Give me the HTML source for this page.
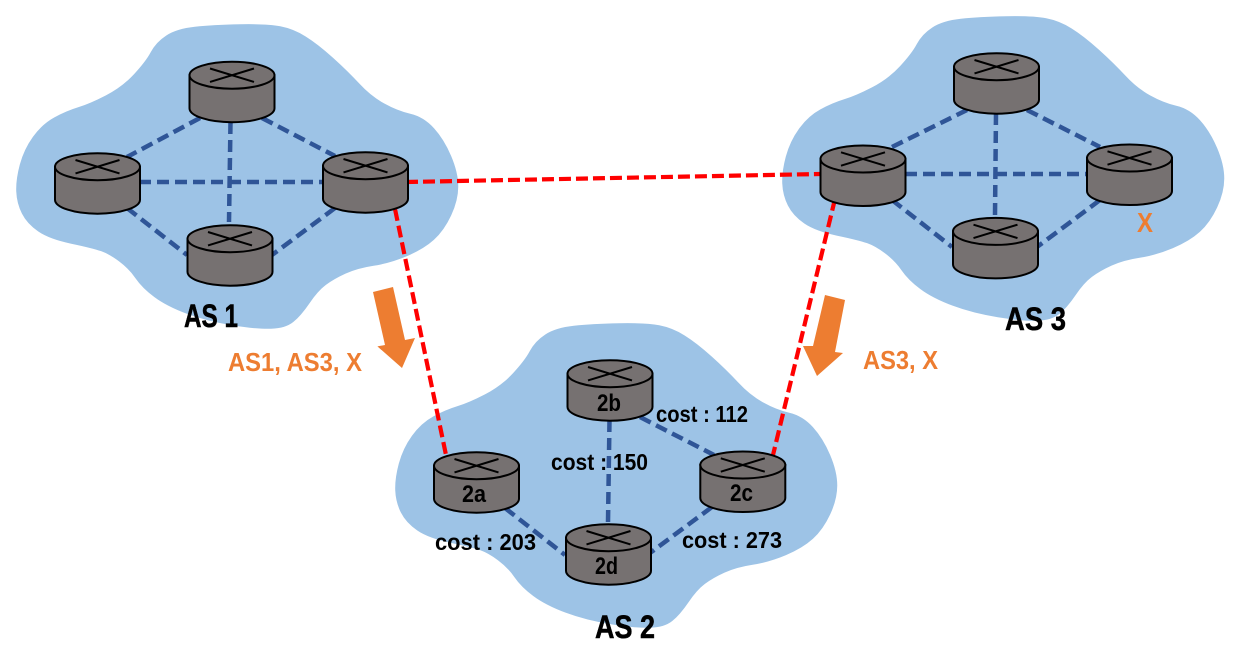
<!DOCTYPE html>
<html>
<head>
<meta charset="utf-8">
<style>
html,body{margin:0;padding:0;background:#fff;width:1245px;height:657px;overflow:hidden}
svg{display:block}
text{font-family:"Liberation Sans",sans-serif;font-weight:bold;fill:#000}
text.o{fill:#ed7d31}
.b{stroke:#2f5597;stroke-width:4.500;stroke-dasharray:12 6;fill:none}
.r{stroke:#ff0000;stroke-width:4.200;stroke-dasharray:12 5;fill:none}
</style>
</head>
<body>
<svg xmlns="http://www.w3.org/2000/svg" width="1245" height="657" viewBox="0 0 1245 657">
<defs>
<path id="cloud" fill="#9dc3e6" stroke="#9dc3e6" stroke-width="2.500" stroke-linejoin="round" d="M167 36.500Q177 30 195 28Q213 26 240 25.500Q267 25 280 27.500Q293 30 305 37.500Q317 45 332 58.500Q347 72 358.500 84.500Q370 97 383.500 104.500Q397 112 410 115Q423 118 433 129Q443 140 450 156.500Q457 173 457 186.500Q457 200 450 215Q443 230 433 239Q423 248 406.500 255Q390 262 373.500 264.500Q357 267 345 272.500Q333 278 325 284Q317 290 308.500 302.500Q300 315 292.500 321Q285 327 271 327.500Q257 328 232 324Q207 320 187 312.500Q167 305 155 296Q143 287 136.500 277.500Q130 268 120 260.500Q110 253 101.500 250Q93 247 71.500 242.500Q50 238 39 230.500Q28 223 23 213Q18 203 17.500 191.500Q17 180 21 165Q25 150 34 137.500Q43 125 55 118.500Q67 112 78.500 108.500Q90 105 106.500 96.500Q123 88 135 75Q147 62 152 52.500Q157 43 167 36.500Z"/>
<g id="router" stroke="#000" stroke-width="2" fill="#767171">
<path d="M-42.500 0V33A42.500 14 0 0 0 42.500 33V0Z"/>
<ellipse cx="0" cy="0" rx="42.500" ry="13.500"/>
<path d="M-22 -6.700L22 6.700M-22 6.700L22 -6.700" fill="none"/>
</g>
</defs>

<use href="#cloud"/>
<use href="#cloud" x="379" y="299"/>
<use href="#cloud" x="766" y="-8"/>

<!-- AS1 links -->
<path class="b" d="M230.500 122L229 222M139 182H322M200 118L127 157M262 118L335 156M127 208L187 255M335 208L272 255"/>
<!-- AS2 links -->
<path class="b" d="M609.500 420L608 522M640 417L714 455M505 508L565 555M712 507L650 553"/>
<!-- AS3 links -->
<path class="b" d="M996 113L995 215M905 174H1087M892 147L967 110M1027 110L1100 147M892 200L952 247M1100 200L1037 247"/>
<!-- inter-AS -->
<path class="r" d="M406 182L820 174M395 209L446 455M835 199L773 455"/>

<!-- routers -->
<use href="#router" x="232" y="75.200"/>
<use href="#router" x="97.500" y="166.700"/>
<use href="#router" x="365.500" y="165.700"/>
<use href="#router" x="230" y="238.700"/>
<use href="#router" x="610" y="373.700"/>
<use href="#router" x="476.500" y="465.700"/>
<use href="#router" x="742.800" y="465"/>
<use href="#router" x="608.500" y="537.700"/>
<use href="#router" x="996.500" y="66.700"/>
<use href="#router" x="863" y="159"/>
<use href="#router" x="1129.500" y="158"/>
<use href="#router" x="995.500" y="231.400"/>

<!-- arrows -->
<polygon fill="#ed7d31" points="373,292 393,287 405,340 415,338 402,368 377.400,346.400 385,345"/>
<polygon fill="#ed7d31" points="825,295 845,300 835,352 843,353 817,376 803,346 813,346"/>

<!-- labels -->
<text x="184" y="327" font-size="32" textLength="54" lengthAdjust="spacingAndGlyphs" stroke="#000" stroke-width="0.500">AS 1</text>
<text x="595" y="638" font-size="32" textLength="60" lengthAdjust="spacingAndGlyphs" stroke="#000" stroke-width="0.500">AS 2</text>
<text x="1005" y="330" font-size="32" textLength="61" lengthAdjust="spacingAndGlyphs" stroke="#000" stroke-width="0.500">AS 3</text>
<text class="o" x="1137" y="232" font-size="28" textLength="16" lengthAdjust="spacingAndGlyphs">X</text>
<text class="o" x="228" y="371" font-size="26" textLength="134" lengthAdjust="spacingAndGlyphs">AS1, AS3, X</text>
<text class="o" x="863" y="369" font-size="26" textLength="75" lengthAdjust="spacingAndGlyphs">AS3, X</text>
<text x="656" y="422" font-size="23" textLength="92" lengthAdjust="spacingAndGlyphs">cost : 112</text>
<text x="551" y="470" font-size="23" textLength="97" lengthAdjust="spacingAndGlyphs">cost : 150</text>
<text x="435" y="550" font-size="23" textLength="101" lengthAdjust="spacingAndGlyphs">cost : 203</text>
<text x="682" y="548" font-size="23" textLength="100" lengthAdjust="spacingAndGlyphs">cost : 273</text>
<text x="597" y="411" font-size="24" textLength="24" lengthAdjust="spacingAndGlyphs">2b</text>
<text x="462" y="502" font-size="24" textLength="24" lengthAdjust="spacingAndGlyphs">2a</text>
<text x="730" y="501" font-size="24" textLength="23" lengthAdjust="spacingAndGlyphs">2c</text>
<text x="595" y="574" font-size="24" textLength="23" lengthAdjust="spacingAndGlyphs">2d</text>
</svg>
</body>
</html>
